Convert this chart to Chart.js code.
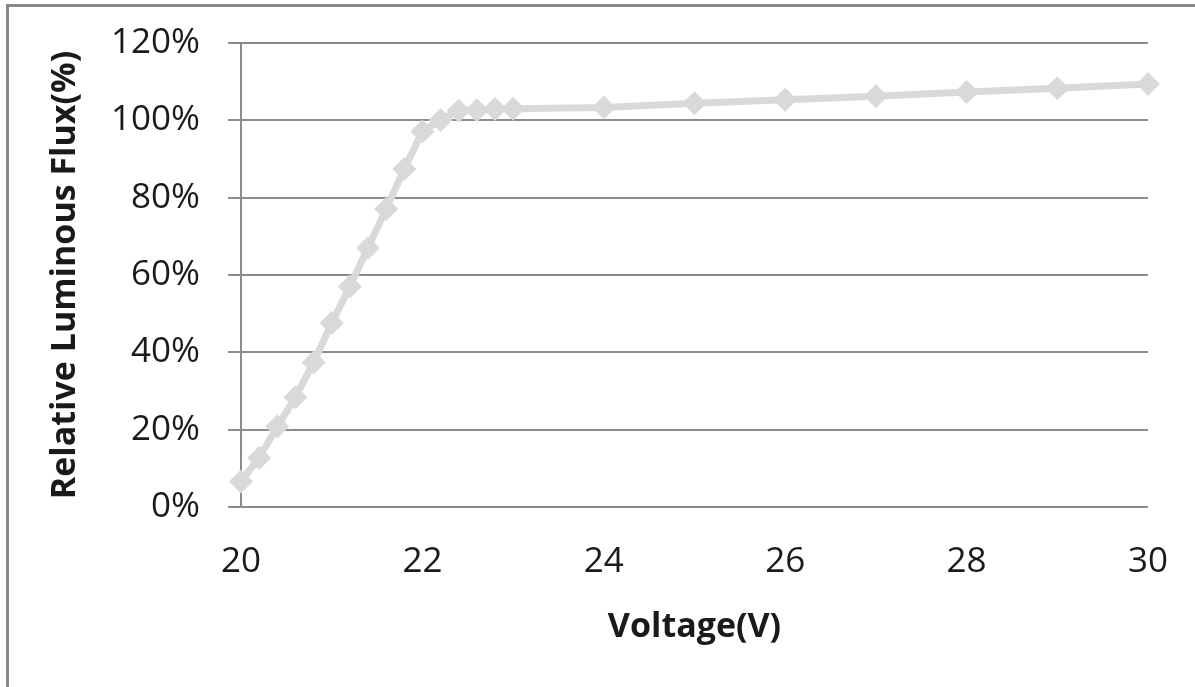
<!DOCTYPE html>
<html>
<head>
<meta charset="utf-8">
<script src="https://cdn.jsdelivr.net/npm/chart.js@4"></script>
<style>
  body { margin: 0; background: #fff; }
  #wrap { position: relative; width: 1195px; height: 687px; overflow: hidden; }
  #frame { position: absolute; left: 6px; top: 4px; width: 1200px; height: 680px;
    border-left: 3px solid #8a8a8a; border-top: 3px solid #8a8a8a; border-bottom: 2px solid #ececec; }
  #chart { position: absolute; left: 0; top: 0; }
</style>
</head>
<body>
<div id="wrap">
  <div id="frame"></div>
  <canvas id="chart" width="1195" height="687"></canvas>
</div>
<script>
// voltage (V) and relative luminous flux (%)
const voltage = [20, 20.2, 20.4, 20.6, 20.8, 21, 21.2, 21.4, 21.6, 21.8, 22, 22.2, 22.4, 22.6, 22.8, 23,
  24, 25, 26, 27, 28, 29, 30]
const flux = [6.6, 12.7, 20.8, 28.4, 37.4, 47.6, 57.0, 67.0, 77.1, 87.4, 97.1, 100.0, 102.5, 102.6, 102.9, 103.0,
  103.3, 104.4, 105.3, 106.2, 107.3, 108.3, 109.4]
const yTicks = [0, 20, 40, 60, 80, 100, 120]
const xTicks = [20, 22, 24, 26, 28, 30]

const gridGray = "#8c8c8c"
const lineGray = "#d9d9d9"

new Chart(document.querySelector("#chart"), {
  type: "line",
  data: {
    datasets: [
      {
        data: voltage.map((v, i) => ({ x: v, y: flux[i] })),
        borderColor: lineGray,
        backgroundColor: lineGray,
        borderWidth: 7,
        pointStyle: "rectRot",
        pointRadius: 12,
        pointBorderWidth: 0,
        tension: 0,
        fill: false,
        clip: false,
      },
    ],
  },
  options: {
    responsive: false,
    animation: false,
    layout: { padding: { left: 0, right: 47, top: 43, bottom: 0 } },
    plugins: { legend: { display: false }, tooltip: { enabled: false } },
    scales: {
      x: {
        type: "linear",
        min: 20,
        max: 30,
        afterBuildTicks: (s) => { s.ticks = xTicks.map((v) => ({ value: v })) },
        afterFit: (s) => { s.height = 180; s.paddingLeft = 0; s.paddingRight = 0 },
        grid: { display: false, drawTicks: false },
        border: { display: false },
        ticks: { color: "#1a1a1a", padding: 34, maxRotation: 0, font: { family: "Open Sans", size: 35 } },
        title: {
          display: true,
          text: "Voltage(V)",
          color: "#1a1a1a",
          padding: { top: 0, bottom: 39 },
          font: { family: "Open Sans", size: 34, weight: "bold" },
        },
      },
      y: {
        min: 0,
        max: 120,
        afterBuildTicks: (s) => { s.ticks = yTicks.map((v) => ({ value: v })) },
        afterFit: (s) => { s.width = 241; s.paddingTop = 0; s.paddingBottom = 0 },
        grid: { color: gridGray, lineWidth: 2, tickLength: 13 },
        border: { display: true, color: gridGray, width: 2 },
        ticks: { color: "#1a1a1a", padding: 28, font: { family: "Open Sans", size: 35 }, callback: (v) => v + "%" },
        title: {
          display: true,
          text: "Relative Luminous Flux(%)",
          color: "#1a1a1a",
          padding: { top: 45, bottom: 0 },
          font: { family: "Open Sans", size: 34, weight: "bold" },
        },
      },
    },
  },
})
</script>
</body>
</html>
